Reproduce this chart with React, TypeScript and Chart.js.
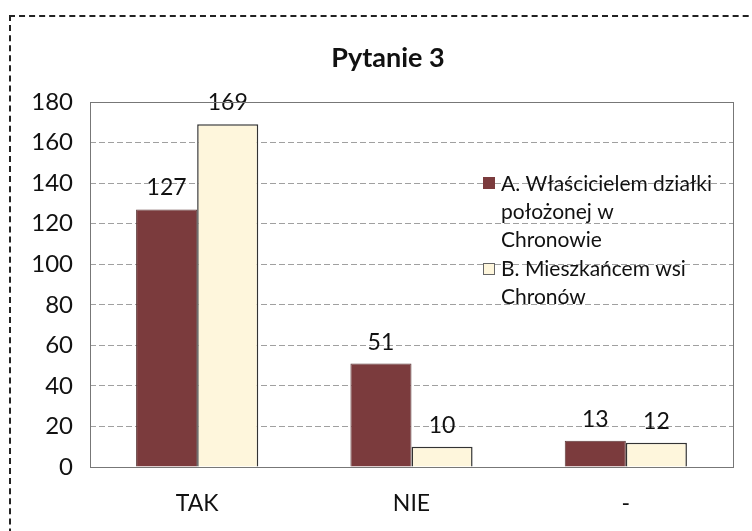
import React, { useEffect, useRef } from "react";
import { Chart, registerables } from "chart.js";

Chart.register(...registerables);

const categories = ["TAK", "NIE", "-"];
const seriesA = [127, 51, 13];
const seriesB = [169, 10, 12];
const legendA = ["A. Właścicielem działki", "położonej w", "Chronowie"];
const legendB = ["B. Mieszkańcem wsi", "Chronów"];
const titleText = "Pytanie 3";

const FONT = "Lato, 'Open Sans', sans-serif";
const colorA = "#7b3b3d";
const colorB = "#fef6dc";
const TEXT = "#111";

const overlayPlugin = {
  id: "overlay",
  afterDatasetsDraw(chart: any) {
    const ctx = chart.ctx;
    const area = chart.chartArea;
    ctx.save();
    // data labels
    ctx.font = `23px ${FONT}`;
    ctx.fillStyle = TEXT;
    ctx.textAlign = "center";
    ctx.textBaseline = "bottom";
    chart.data.datasets.forEach((ds: any, di: number) => {
      const meta = chart.getDatasetMeta(di);
      meta.data.forEach((bar: any, i: number) => {
        ctx.fillText(String(ds.data[i]), bar.x, bar.y - 10);
      });
    });
    // title
    ctx.font = `bold 27px ${FONT}`;
    ctx.textBaseline = "middle";
    ctx.fillText(titleText, 388, 58);
    // legend
    const lx = area.left + 393;
    ctx.font = `21px ${FONT}`;
    ctx.textAlign = "left";
    ctx.fillStyle = colorA;
    ctx.fillRect(lx, 177, 12, 12);
    ctx.fillStyle = TEXT;
    legendA.forEach((t, i) => ctx.fillText(t, lx + 18, 184 + i * 28));
    ctx.fillStyle = colorB;
    ctx.fillRect(lx, 263, 12, 12);
    ctx.strokeStyle = "#666";
    ctx.lineWidth = 1;
    ctx.strokeRect(lx + 0.5, 263.5, 11, 11);
    ctx.fillStyle = TEXT;
    legendB.forEach((t, i) => ctx.fillText(t, lx + 18, 269 + i * 28));
    // plot border
    ctx.strokeStyle = "#777";
    ctx.lineWidth = 1;
    ctx.strokeRect(area.left + 0.5, area.top + 0.5, area.right - area.left, area.bottom - area.top);
    ctx.restore();
  },
};

export default function App() {
  const ref = useRef<HTMLCanvasElement>(null);
  useEffect(() => {
    if (!ref.current) return;
    const chart = new Chart(ref.current, {
      type: "bar",
      data: {
        labels: categories,
        datasets: [
          {
            label: legendA.join(" "),
            data: seriesA,
            backgroundColor: colorA,
            borderColor: "#5e3a3a",
            borderWidth: 1,
            categoryPercentage: 0.57,
            barPercentage: 1,
          },
          {
            label: legendB.join(" "),
            data: seriesB,
            backgroundColor: colorB,
            borderColor: "#333",
            borderWidth: 1.5,
            categoryPercentage: 0.57,
            barPercentage: 1,
          },
        ],
      },
      options: {
        animation: false,
        responsive: false,
        devicePixelRatio: 1,
        layout: { padding: { top: 102, right: 19, left: 0, bottom: 0 } },
        plugins: { legend: { display: false }, tooltip: { enabled: false }, title: { display: false } },
        scales: {
          x: {
            grid: { display: false, drawTicks: false },
            border: { display: true, color: "#555" },
            ticks: { font: { family: FONT, size: 23 }, color: TEXT, padding: 23 },
            afterFit: (s: any) => { s.height = 64; },
          },
          y: {
            min: 0,
            max: 180,
            ticks: { stepSize: 20, font: { family: FONT, size: 24 }, color: TEXT, padding: 17 },
            grid: { color: "#a0a0a0", drawTicks: false, tickLength: 0 },
            border: { display: false, dash: [6, 3] },
            afterFit: (s: any) => { s.width = 90; },
          },
        },
      },
      plugins: [overlayPlugin],
    });
    return () => chart.destroy();
  }, []);
  return (
    <div style={{ position: "fixed", left: 0, top: 0, width: 752, height: 531, overflow: "hidden", background: "#fff" }}>
      <div style={{ position: "absolute", left: 9, top: 15, width: 800, height: 600, border: "2px dashed #222", boxSizing: "border-box" }} />
      <canvas ref={ref} width={752} height={531} style={{ position: "absolute", left: 0, top: 0 }} />
    </div>
  );
}
